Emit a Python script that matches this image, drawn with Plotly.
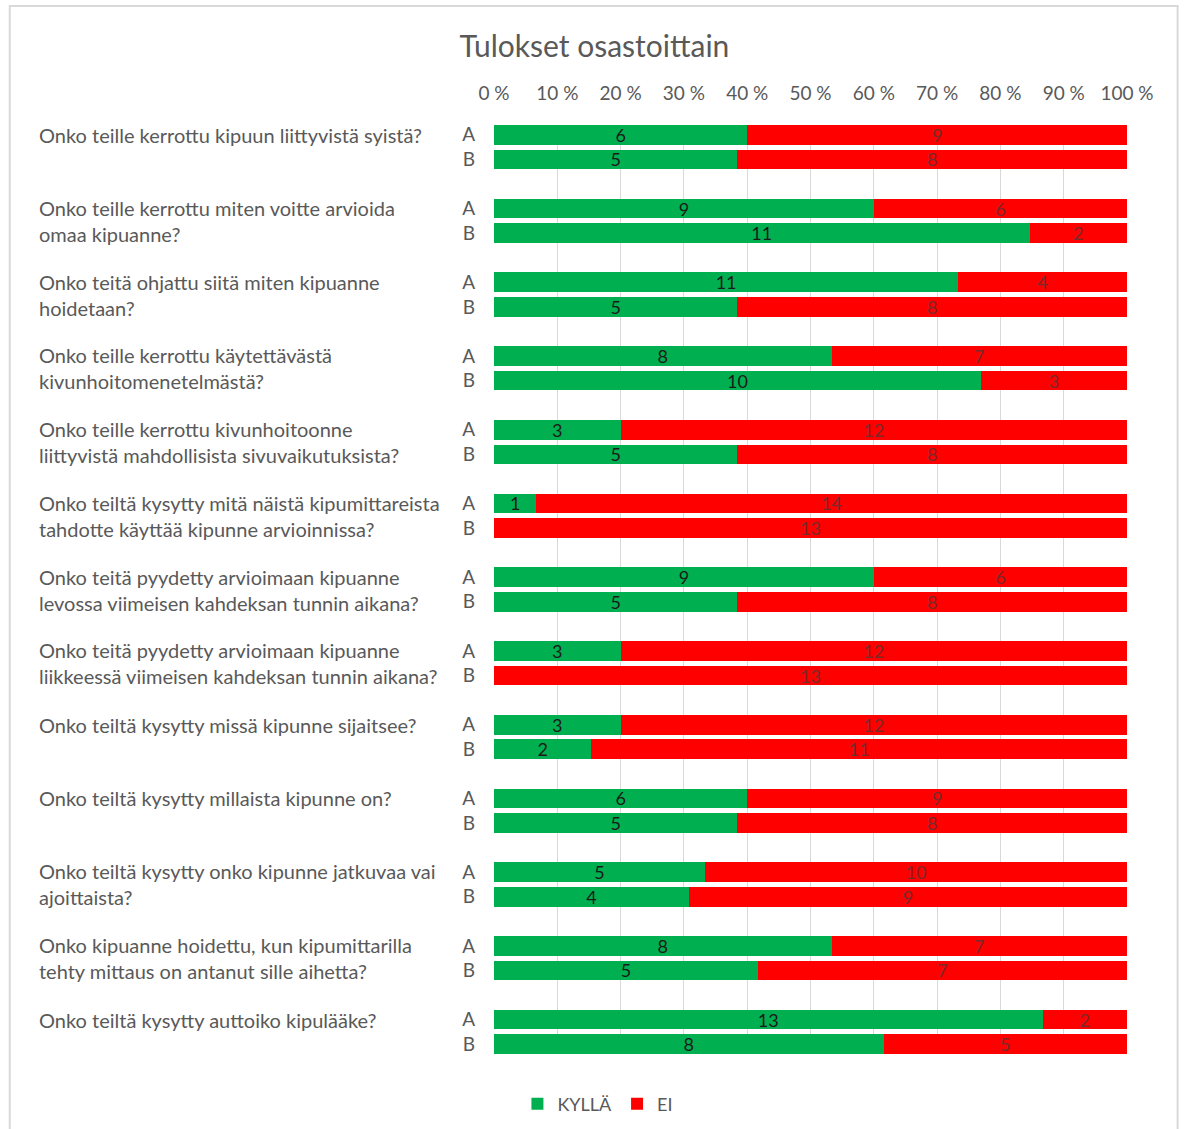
import plotly.graph_objects as go

questions = [
    "Onko teille kerrottu kipuun liittyvistä syistä?",
    "Onko teille kerrottu miten voitte arvioida<br>omaa kipuanne?",
    "Onko teitä ohjattu siitä miten kipuanne<br>hoidetaan?",
    "Onko teille kerrottu käytettävästä<br>kivunhoitomenetelmästä?",
    "Onko teille kerrottu kivunhoitoonne<br>liittyvistä mahdollisista sivuvaikutuksista?",
    "Onko teiltä kysytty mitä näistä kipumittareista<br>tahdotte käyttää kipunne arvioinnissa?",
    "Onko teitä pyydetty arvioimaan kipuanne<br>levossa viimeisen kahdeksan tunnin aikana?",
    "Onko teitä pyydetty arvioimaan kipuanne<br>liikkeessä viimeisen kahdeksan tunnin aikana?",
    "Onko teiltä kysytty missä kipunne sijaitsee?",
    "Onko teiltä kysytty millaista kipunne on?",
    "Onko teiltä kysytty onko kipunne jatkuvaa vai<br>ajoittaista?",
    "Onko kipuanne hoidettu, kun kipumittarilla<br>tehty mittaus on antanut sille aihetta?",
    "Onko teiltä kysytty auttoiko kipulääke?",
]
departments = ["A", "B"]
kylla_A = [6, 9, 11, 8, 3, 1, 9, 3, 3, 6, 5, 8, 13]
ei_A = [9, 6, 4, 7, 12, 14, 6, 12, 12, 9, 10, 7, 2]
kylla_B = [5, 11, 5, 10, 5, 0, 5, 0, 2, 5, 4, 5, 8]
ei_B = [8, 2, 8, 3, 8, 13, 8, 13, 11, 8, 9, 7, 5]
x_ticks = [0, 10, 20, 30, 40, 50, 60, 70, 80, 90, 100]
x_ticktext = [f"{v} %" for v in x_ticks]

GREEN = "#00B050"
RED = "#FF0000"
GRAY = "#595959"
FONT = "Lato"

# positions: each question occupies 3 slots (A, B, gap)
ypos, ylab, kylla, ei = [], [], [], []
for i in range(len(questions)):
    ypos += [i * 3, i * 3 + 1]
    ylab += departments
    kylla += [kylla_A[i], kylla_B[i]]
    ei += [ei_A[i], ei_B[i]]

def lbl(vals):
    return [str(v) if v else "" for v in vals]

fig = go.Figure()
fig.add_trace(go.Bar(
    y=ypos, x=kylla, orientation="h", name="KYLLÄ",
    marker=dict(color=GREEN, line=dict(width=0)),
    text=lbl(kylla), textposition="inside", insidetextanchor="middle",
    textangle=0, constraintext="none",
    textfont=dict(family=FONT, size=18, color="#1a1a1a"),
))
fig.add_trace(go.Bar(
    y=ypos, x=ei, orientation="h", name="EI",
    marker=dict(color=RED, line=dict(width=0)),
    text=lbl(ei), textposition="inside", insidetextanchor="middle",
    textangle=0, constraintext="none",
    textfont=dict(family=FONT, size=18, color="#7a2a2a"),
))

annotations = []
for i, q in enumerate(questions):
    two_lines = "<br>" in q
    annotations.append(dict(
        text=q, xref="paper", yref="y", x=-0.722,
        y=i * 3 + (0.5 if two_lines else 0),
        xanchor="left", yanchor="middle", align="left", showarrow=False,
        font=dict(family=FONT, size=20, color=GRAY),
    ))

fig.update_layout(
    barmode="stack", barnorm="percent", bargap=0.2,
    width=1184, height=1129,
    margin=dict(l=494, r=57, t=125, b=75),
    paper_bgcolor="white", plot_bgcolor="white",
    title=dict(text="Tulokset osastoittain", x=0.502, xanchor="center",
               y=0.959, yanchor="middle",
               font=dict(family=FONT, size=30, color=GRAY)),
    xaxis=dict(side="top", range=[0, 100], tickvals=x_ticks, ticktext=x_ticktext,
               showgrid=True, gridcolor="#d9d9d9", gridwidth=1,
               zeroline=False, showline=False, ticks="",
               ticklabelstandoff=20,
               tickfont=dict(family=FONT, size=19, color=GRAY)),
    yaxis=dict(tickvals=ypos, ticktext=ylab, range=[37.4, -0.4],
               showgrid=False, zeroline=False, showline=False, ticks="",
               ticklabelstandoff=18,
               tickfont=dict(family=FONT, size=19, color=GRAY)),
    legend=dict(orientation="h", xref="container", x=0.505, xanchor="center",
                yref="container", y=0.022, yanchor="middle",
                font=dict(family=FONT, size=18, color=GRAY),
                itemwidth=30, traceorder="normal"),
    annotations=annotations,
    shapes=[dict(type="rect", xref="paper", yref="paper",
                 x0=-0.765, x1=1.08, y0=-0.2, y1=1.128,
                 line=dict(color="#d9d9d9", width=2), layer="below")],
    showlegend=True,
)

fig.write_html("out.html")
